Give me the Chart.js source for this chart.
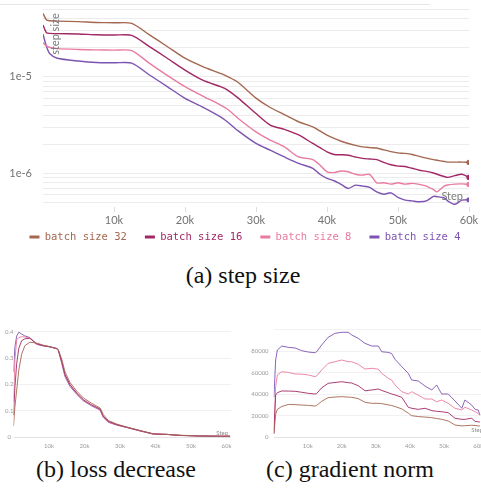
<!DOCTYPE html>
<html>
<head>
<meta charset="utf-8">
<script src="https://cdn.jsdelivr.net/npm/chart.js@4.4.1/dist/chart.umd.min.js"></script>
<style>
  html, body { margin: 0; padding: 0; background: #fff; }
  body { width: 481px; height: 489px; position: relative; overflow: hidden; }
  .panel { position: absolute; }
  .caption {
    position: absolute;
    font-family: "Liberation Serif", "Times New Roman", serif;
    font-size: 24px;
    line-height: 24px;
    color: #111;
    text-align: center;
    white-space: nowrap;
  }
  .topline { position: absolute; left: 0; top: 4px; width: 430px; height: 1px; background: #e6e6e6; }
</style>
</head>
<body>
<div class="topline"></div>
<div class="panel" style="left:0;top:0;width:481px;height:252px"><canvas id="stepChart"></canvas></div>
<div class="caption" style="left:143px;top:263px;width:200px">(a) step size</div>
<div class="panel" style="left:0;top:322px;width:240px;height:132px"><canvas id="lossChart"></canvas></div>
<div class="panel" style="left:245px;top:322px;width:250px;height:132px"><canvas id="gradChart"></canvas></div>
<div class="caption" style="left:16px;top:457px;width:200px">(b) loss decrease</div>
<div class="caption" style="left:250px;top:457px;width:200px">(c) gradient norm</div>

<script>
// ---- data ----
const runLabels = ["batch size 32", "batch size 16", "batch size 8", "batch size 4"];
const runColors = ["#a46750", "#a12864", "#e87b9f", "#7d54b2"];

// (a) step size, values in units of 1e-6
const stepSteps = [0, 500, 1000, 2000, 5000, 7500, 10000, 12500, 15000, 17500, 20000, 22500,
  25000, 26000, 27500, 30000, 32000, 34000, 36000, 38000, 39000, 40000, 41000, 42000, 43000,
  44000, 45000, 46000, 47000, 48000, 49000, 50000, 51000, 52000, 53000, 54000, 55000, 55500,
  56500, 57000, 58000, 59000, 60000];
const stepBs32 = [45, 38.5, 37.8, 37.5, 37.0, 36.3, 36.0, 35.5, 27.0, 20.5, 15.5, 12.7, 10.8, 10.0,
  8.7, 6.0, 4.8, 4.05, 3.42, 3.03, 2.75, 2.49, 2.3, 2.15, 2.04, 1.95, 1.88, 1.85, 1.83, 1.75, 1.68,
  1.63, 1.61, 1.57, 1.5, 1.44, 1.39, 1.37, 1.33, 1.31, 1.31, 1.31, 1.3];
const stepBs16 = [34.2, 28.4, 28.0, 27.8, 27.6, 27.1, 26.9, 26.7, 20.4, 15.5, 11.7, 9.2, 7.87, 7.26,
  6.0, 4.16, 3.16, 2.85, 2.5, 2.04, 1.85, 1.67, 1.57, 1.56, 1.54, 1.48, 1.43, 1.41, 1.39, 1.3, 1.23,
  1.19, 1.18, 1.13, 1.08, 1.05, 1.01, 0.98, 0.93, 0.91, 0.95, 0.98, 0.91];
const stepBs8 = [22.4, 20.8, 20.0, 19.5, 19.1, 18.9, 18.8, 18.6, 13.7, 10.3, 7.87, 6.3, 5.08, 4.6,
  3.7, 2.69, 2.21, 1.88, 1.48, 1.39, 1.22, 1.04, 1.02, 1.06, 1.04, 0.98, 0.96, 0.98, 0.80, 0.80,
  0.775, 0.80, 0.775, 0.79, 0.77, 0.74, 0.68, 0.645, 0.74, 0.76, 0.775, 0.78, 0.77];
const stepBs4 = [27.4, 20.4, 17.1, 15.5, 14.5, 14.0, 13.9, 13.8, 10.4, 7.9, 5.97, 4.85, 3.84, 3.4,
  2.75, 2.04, 1.74, 1.48, 1.27, 1.13, 0.98, 0.89, 0.84, 0.77, 0.70, 0.757, 0.74, 0.717, 0.645, 0.61,
  0.63, 0.565, 0.53, 0.52, 0.51, 0.52, 0.58, 0.575, 0.56, 0.52, 0.48, 0.53, 0.535];
const stepGridMantissas = [1, 2, 3, 4, 5, 6, 7, 8, 9];
const stepGridExponents = [-7, -6, -5];
const stepLabelExponents = [-6, -5];

// (b) loss decrease
const lossSteps = [0, 400, 900, 1500, 2300, 3200, 4600, 6500, 8400, 10300, 12200, 12600, 13600,
  14500, 15900, 17800, 19700, 22000, 24400, 25300, 26700, 29100, 31900, 35600, 39400, 43200,
  46900, 52500, 58200, 61000];
const lossBs32 = [0.043, 0.116, 0.179, 0.255, 0.315, 0.347, 0.360, 0.357, 0.349, 0.343, 0.335, 0.332,
  0.296, 0.248, 0.208, 0.175, 0.149, 0.129, 0.111, 0.086, 0.064, 0.050, 0.039, 0.026, 0.013, 0.011,
  0.008, 0.005, 0.004, 0.004];
const lossBs16 = [0.084, 0.190, 0.280, 0.337, 0.366, 0.373, 0.375, 0.355, 0.347, 0.343, 0.336, 0.331,
  0.287, 0.238, 0.200, 0.168, 0.142, 0.123, 0.107, 0.080, 0.060, 0.048, 0.038, 0.025, 0.013, 0.011,
  0.007, 0.005, 0.004, 0.004];
const lossBs8 = [0.135, 0.293, 0.369, 0.378, 0.381, 0.380, 0.376, 0.353, 0.347, 0.343, 0.337, 0.332,
  0.284, 0.234, 0.197, 0.166, 0.140, 0.121, 0.105, 0.077, 0.058, 0.047, 0.038, 0.025, 0.012, 0.011,
  0.007, 0.005, 0.004, 0.004];
const lossBs4 = [0.248, 0.343, 0.384, 0.398, 0.391, 0.384, 0.378, 0.352, 0.346, 0.342, 0.336, 0.331,
  0.280, 0.230, 0.193, 0.163, 0.138, 0.119, 0.103, 0.075, 0.057, 0.046, 0.037, 0.024, 0.012, 0.011,
  0.007, 0.005, 0.004, 0.004];

// (c) gradient norm, values in thousands
const gradSteps = [100, 600, 1100, 2400, 4300, 6300, 8200, 10200, 12100, 12600, 14100, 16000, 18000,
  20000, 21900, 22900, 24800, 26800, 28800, 30700, 31700, 33600, 34600, 35600, 37600, 39500, 40500,
  42400, 44400, 46400, 47800, 49300, 51200, 53200, 55200, 56100, 58100, 59100, 60000, 60500];
const gradBs32 = [3.1, 21.5, 26.0, 28.7, 30.5, 30.4, 30.0, 29.7, 29.1, 29.6, 33.5, 36.9, 37.5, 37.8,
  37.4, 37.2, 36.0, 32.6, 31.6, 31.6, 31.3, 30.2, 29.6, 28.6, 26.4, 22.5, 20.1, 19.3, 18.8, 18.3,
  17.5, 16.7, 15.2, 11.4, 10.6, 10.8, 11.2, 11.0, 10.6, 10.5];
const gradBs16 = [3.7, 39.3, 41.5, 43.1, 43.0, 42.8, 41.9, 40.9, 40.3, 40.6, 46.0, 50.2, 51.0, 51.7,
  50.8, 50.5, 48.0, 43.3, 44.0, 44.9, 43.6, 41.5, 40.3, 39.4, 37.2, 27.9, 27.0, 26.0, 27.0, 24.8,
  24.2, 23.8, 22.9, 17.7, 16.7, 16.7, 17.7, 14.8, 14.4, 14.2];
const gradBs8 = [7.0, 47.1, 58.0, 61.0, 60.4, 58.9, 58.7, 58.0, 56.4, 57.0, 62.6, 68.8, 70.3, 71.9,
  70.3, 70.3, 68.0, 63.5, 64.2, 63.3, 59.5, 54.9, 53.3, 48.7, 42.4, 40.3, 42.4, 39.3, 35.6, 35.6,
  33.1, 34.7, 31.6, 27.0, 25.4, 27.9, 25.4, 23.8, 22.0, 20.7];
const gradBs4 = [37.2, 71.9, 81.2, 84.9, 83.7, 83.1, 80.6, 79.3, 78.7, 79.5, 85.9, 93.0, 96.7, 97.7,
  97.7, 95.2, 92.1, 87.4, 84.9, 84.9, 79.6, 79.0, 78.0, 72.6, 65.7, 59.5, 53.3, 52.4, 47.7, 44.0,
  48.7, 40.3, 40.3, 33.8, 27.0, 34.7, 30.0, 26.0, 25.4, 20.7];

const kTicks = [10000, 20000, 30000, 40000, 50000, 60000];
const lossTicks = [0, 0.1, 0.2, 0.3, 0.4];
const gradTicks = [0, 20000, 40000, 60000, 80000, 100000];

// ---- helpers ----
function points(xs, ys, scale) {
  return xs.map((x, i) => ({ x: x, y: ys[i] * scale }));
}

function makeSets(xs, runs, scale, width, endDot) {
  return runs.map((ys, i) => ({
    label: runLabels[i],
    data: points(xs, ys, scale),
    borderColor: runColors[i],
    backgroundColor: runColors[i],
    borderWidth: width,
    tension: endDot ? 0.25 : 0,
    pointRadius: ctx => (endDot && ctx.dataIndex === xs.length - 1 ? 2.6 : 0),
    pointBorderWidth: 0
  }));
}

// axis names drawn inside the plot, like the original dashboard
const axisNames = {
  id: "axisNames",
  afterDraw(chart, args, opts) {
    const { ctx, chartArea } = chart;
    ctx.save();
    ctx.fillStyle = opts.color;
    ctx.font = opts.font;
    if (opts.x) {
      ctx.textAlign = "right";
      ctx.textBaseline = "middle";
      ctx.fillText(opts.x, chartArea.right + opts.xdx, chartArea.bottom + opts.xdy);
    }
    if (opts.y) {
      ctx.translate(chartArea.left + opts.ydx, chartArea.top + opts.ydy);
      ctx.rotate(-Math.PI / 2);
      ctx.textAlign = "right";
      ctx.textBaseline = "top";
      ctx.fillText(opts.y, 0, 0);
    }
    ctx.restore();
  }
};

// fixed legend height, then move the row up and right like the original
const legendBox = {
  id: "legendBox",
  beforeInit(chart) {
    const fit = chart.legend.fit;
    chart.legend.fit = function () {
      fit.call(this);
      this.height = 25;
    };
  },
  afterLayout(chart) {
    const lg = chart.legend;
    lg.left += 10.5;
    lg.right += 10.5;
    lg.top -= 13.25;
  }
};

function noPad(s) {
  s.paddingTop = 0;
  s.paddingBottom = 0;
  s.paddingLeft = 0;
  s.paddingRight = 0;
}

const tickFont = { family: "Lato, 'Noto Sans', sans-serif", size: 11 };
const smallFont = { family: "Lato, 'Noto Sans', sans-serif", size: 6 };

// ---- (a) step size ----
new Chart(document.getElementById("stepChart"), {
  type: "line",
  data: { datasets: makeSets(stepSteps, [stepBs32, stepBs16, stepBs8, stepBs4], 1e-6, 1.4, true) },
  options: {
    animation: false,
    responsive: true,
    maintainAspectRatio: false,
    layout: { padding: { left: 0, right: 12, top: 9, bottom: 0 } },
    scales: {
      x: {
        type: "linear",
        min: 0,
        max: 60000,
        afterFit: s => { s.height = 20; noPad(s); },
        afterBuildTicks: s => { s.ticks = kTicks.map(v => ({ value: v })); },
        grid: { drawOnChartArea: false, tickLength: 5, color: "#dddddd" },
        border: { display: false },
        ticks: { padding: 2, font: tickFont, color: "#727272", maxRotation: 0, callback: v => v / 1000 + "k" }
      },
      y: {
        type: "logarithmic",
        min: 4.5e-7,
        max: 5e-5,
        afterFit: s => { s.width = 43; noPad(s); },
        afterBuildTicks: s => {
          const t = [];
          stepGridExponents.forEach(e => stepGridMantissas.forEach(m => {
            const v = m * Math.pow(10, e);
            if (v >= s.min && v <= s.max * 1.0001) t.push({ value: v });
          }));
          s.ticks = t;
        },
        grid: { color: "#ececec", drawTicks: false },
        border: { display: false },
        ticks: {
          autoSkip: false,
          padding: 11,
          font: tickFont,
          color: "#727272",
          callback: v => {
            const e = Math.round(Math.log10(v));
            if (Math.abs(Math.log10(v) - e) < 1e-6 && stepLabelExponents.includes(e)) return "1e" + e;
            return "";
          }
        }
      }
    },
    plugins: {
      tooltip: { enabled: false },
      legend: {
        position: "bottom",
        labels: {
          boxWidth: 10,
          boxHeight: 3,
          padding: 18,
          font: { family: "'DejaVu Sans Mono', 'Liberation Mono', monospace", size: 10.5 },
          generateLabels: chart => chart.data.datasets.map((ds, i) => ({
            text: ds.label,
            fillStyle: ds.borderColor,
            strokeStyle: ds.borderColor,
            fontColor: ds.borderColor,
            lineWidth: 0,
            hidden: false,
            datasetIndex: i
          }))
        }
      },
      axisNames: {
        color: "#7a7a7a",
        font: "11px Lato, 'Noto Sans', sans-serif",
        x: "Step", xdx: -6, xdy: -11,
        y: "step size", ydx: 6.5, ydy: 4.3
      }
    }
  },
  plugins: [axisNames, legendBox]
});

// shared setup for the two small panels
function smallOptions(yMin, yMax, yTickVals, yFmt, yWidth, xMax, crossAlign, yPad, pad, names) {
  return {
    animation: false,
    responsive: true,
    maintainAspectRatio: false,
    layout: { padding: pad },
    scales: {
      x: {
        type: "linear",
        min: 0,
        max: xMax,
        afterFit: s => { s.height = 16.7; noPad(s); },
        afterBuildTicks: s => { s.ticks = kTicks.map(v => ({ value: v })); },
        grid: { display: false, drawTicks: false },
        border: { display: false },
        ticks: { padding: 5.5, font: smallFont, color: "#9a9a9a", maxRotation: 0, callback: v => v / 1000 + "k" }
      },
      y: {
        min: yMin,
        max: yMax,
        afterFit: s => { s.width = yWidth; noPad(s); },
        afterBuildTicks: s => { s.ticks = yTickVals.map(v => ({ value: v })); },
        grid: { color: ctx => (ctx.tick && ctx.tick.value === 0 ? "#e2e2e2" : "#f1f1f1"), drawTicks: false },
        border: { display: false },
        ticks: { padding: yPad, crossAlign: crossAlign, font: smallFont, color: "#9a9a9a", callback: yFmt }
      }
    },
    plugins: {
      tooltip: { enabled: false },
      legend: { display: false },
      axisNames: names
    }
  };
}

// ---- (b) loss decrease ----
new Chart(document.getElementById("lossChart"), {
  type: "line",
  data: { datasets: makeSets(lossSteps, [lossBs32, lossBs16, lossBs8, lossBs4], 1, 0.9, false) },
  options: smallOptions(0, 0.4, lossTicks, v => String(Math.round(v * 10) / 10), 13.5, 61300,
    "center", 0, { left: 0, right: 8.9, top: 9.7, bottom: 0 },
    { color: "#8a8a8a", font: "6px Lato, 'Noto Sans', sans-serif", x: "Step", xdx: -3, xdy: -4.3 }),
  plugins: [axisNames]
});

// ---- (c) gradient norm ----
new Chart(document.getElementById("gradChart"), {
  type: "line",
  data: { datasets: makeSets(gradSteps, [gradBs32, gradBs16, gradBs8, gradBs4], 1000, 0.9, false) },
  options: smallOptions(0, 100000, gradTicks, v => (v === 100000 ? "" : String(v)), 28.6, 61000,
    "near", 5, { left: 0, right: 13.4, top: 7.8, bottom: 0 },
    { color: "#8a8a8a", font: "6px Lato, 'Noto Sans', sans-serif", x: "Step", xdx: 1.5, xdy: -7.3 }),
  plugins: [axisNames]
});
</script>
</body>
</html>
